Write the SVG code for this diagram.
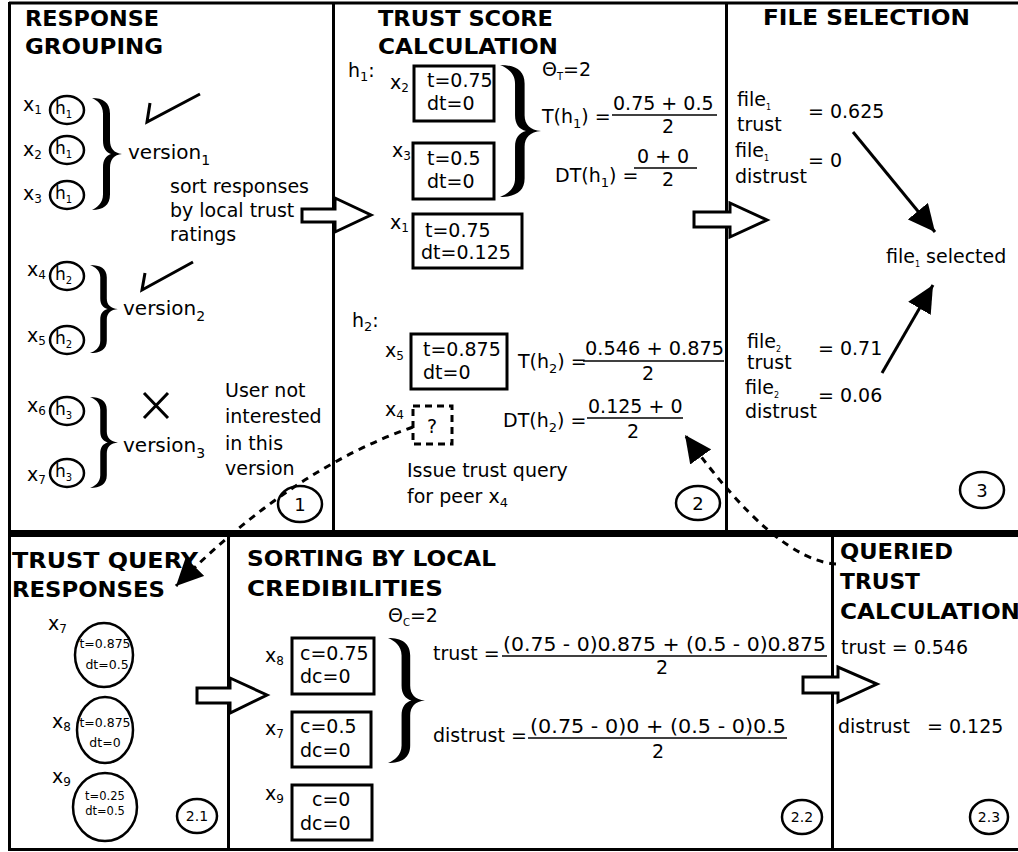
<svg xmlns="http://www.w3.org/2000/svg" xmlns:xlink="http://www.w3.org/1999/xlink" width="1018" height="852" viewBox="0 0 1018 852">
<style>
text { font-family: "DejaVu Sans", Verdana, sans-serif; fill: #000; }
.t { font-size: 19px; }
.ttl { font-size: 22px; font-weight: bold; }
.x { font-size: 19px; }
.xs { font-size: 12px; }
.s { font-size: 13px; }
.h { font-size: 17px; }
.hs { font-size: 10px; }
.fs { font-size: 8px; }
.c13 { font-size: 12.5px; text-anchor: middle; }
.c12 { font-size: 11.5px; text-anchor: middle; }
.num { font-size: 18px; text-anchor: middle; }
.num2 { font-size: 14px; text-anchor: middle; }
.mid { text-anchor: middle; }
.frame { stroke: #000; stroke-width: 3; fill: none; }
.thick { stroke: #000; stroke-width: 7; fill: none; }
.box { fill: #fff; stroke: #000; stroke-width: 3; }
.dbox { fill: #fff; stroke: #000; stroke-width: 3; stroke-dasharray: 7 5; }
.circ { fill: #fff; stroke: #000; stroke-width: 2.5; }
.frac { stroke: #000; stroke-width: 1.5; }
.blk { fill: #fff; stroke: #000; stroke-width: 3; stroke-linejoin: miter; }
.mark { fill: none; stroke: #000; stroke-width: 3; stroke-linejoin: miter; }
.dash { fill: none; stroke: #000; stroke-width: 3; stroke-dasharray: 7 6; }
.arr { fill: none; stroke: #000; stroke-width: 3; }
.brace { fill: #000; }
</style>
<defs>
<path id="brace" d="M0,0 C11,0 18,4 18,14 L18,38 C18,45 22,49.3 30,50 C22,50.7 18,55 18,62 L18,86 C18,96 11,100 0,100 C5,98 11,94 11,86 L11,62 C11,55 14,51.5 19,50 C14,48.5 11,45 11,38 L11,14 C11,6 5,2 0,0 Z"/>
<marker id="ah" markerUnits="userSpaceOnUse" markerWidth="28" markerHeight="26" refX="27" refY="13" orient="auto" viewBox="0 0 28 26"><path d="M0,0 L27,13 L0,26 Z" fill="#000" stroke="none"/></marker>
</defs>

<g id="frame">
<line class="frame" x1="9" y1="3" x2="1018" y2="3"/>
<line class="frame" x1="9.5" y1="2" x2="9.5" y2="851"/>
<line class="frame" x1="9" y1="849.5" x2="1018" y2="849.5"/>
<line class="thick" x1="9" y1="533.5" x2="1018" y2="533.5"/>
<line class="frame" x1="333.5" y1="3" x2="333.5" y2="531"/>
<line class="frame" x1="726.5" y1="3" x2="726.5" y2="531"/>
<line class="frame" x1="228.5" y1="536" x2="228.5" y2="849"/>
<line class="frame" x1="832.5" y1="536" x2="832.5" y2="849"/>
</g>

<g id="panel-1">
<text class="ttl" x="25" y="26" textLength="134" lengthAdjust="spacingAndGlyphs">RESPONSE</text>
<text class="ttl" x="25" y="54" textLength="138" lengthAdjust="spacingAndGlyphs">GROUPING</text>
<g id="resp-x1"><text class="x" x="23" y="111">x<tspan class="xs" dy="3">1</tspan></text><ellipse class="circ" cx="67" cy="110" rx="17" ry="14"/><text class="h" x="55" y="114">h<tspan class="hs" dy="4">1</tspan></text></g>
<g id="resp-x2"><text class="x" x="23" y="156">x<tspan class="xs" dy="3">2</tspan></text><ellipse class="circ" cx="67" cy="150" rx="17" ry="14"/><text class="h" x="55" y="154">h<tspan class="hs" dy="4">1</tspan></text></g>
<g id="resp-x3"><text class="x" x="23" y="200">x<tspan class="xs" dy="3">3</tspan></text><ellipse class="circ" cx="67" cy="195" rx="17" ry="14"/><text class="h" x="55" y="199">h<tspan class="hs" dy="4">1</tspan></text></g>
<g id="resp-x4"><text class="x" x="27" y="276">x<tspan class="xs" dy="3">4</tspan></text><ellipse class="circ" cx="67" cy="276" rx="17" ry="14"/><text class="h" x="55" y="280">h<tspan class="hs" dy="4">2</tspan></text></g>
<g id="resp-x5"><text class="x" x="27" y="342">x<tspan class="xs" dy="3">5</tspan></text><ellipse class="circ" cx="67" cy="340" rx="17" ry="14"/><text class="h" x="55" y="344">h<tspan class="hs" dy="4">2</tspan></text></g>
<g id="resp-x6"><text class="x" x="27" y="412">x<tspan class="xs" dy="3">6</tspan></text><ellipse class="circ" cx="67" cy="411" rx="17" ry="14"/><text class="h" x="55" y="415">h<tspan class="hs" dy="4">3</tspan></text></g>
<g id="resp-x7"><text class="x" x="27" y="481">x<tspan class="xs" dy="3">7</tspan></text><ellipse class="circ" cx="67" cy="473" rx="17" ry="14"/><text class="h" x="55" y="477">h<tspan class="hs" dy="4">3</tspan></text></g>
<use href="#brace" class="brace" transform="translate(92,98) scale(1,1.12)"/>
<use href="#brace" class="brace" transform="translate(90,265) scale(0.933,0.88)"/>
<use href="#brace" class="brace" transform="translate(90,397) scale(0.933,0.91)"/>
<text class="t" x="128" y="159" style="font-size:20px">version<tspan class="s" dy="6" style="font-size:14px">1</tspan></text>
<text class="t" x="123" y="315" style="font-size:20px">version<tspan class="s" dy="6" style="font-size:14px">2</tspan></text>
<text class="t" x="123" y="452" style="font-size:20px">version<tspan class="s" dy="6" style="font-size:14px">3</tspan></text>
<path class="mark" d="M150,103 L147,122 L200,94"/>
<path class="mark" d="M145,273 L142,290 L193,262"/>
<path class="mark" d="M144,393 L168,418 M168,393 L144,418"/>
<text class="t" x="170" y="193">sort responses</text>
<text class="t" x="170" y="217">by local trust</text>
<text class="t" x="170" y="241">ratings</text>
<text class="t" x="225" y="397">User not</text>
<text class="t" x="225" y="423">interested</text>
<text class="t" x="225" y="450">in this</text>
<text class="t" x="225" y="475">version</text>
<g id="step-1"><ellipse class="circ" cx="300" cy="504" rx="22" ry="18"/><text class="num" x="300" y="511">1</text></g>
</g>

<g id="panel-2">
<text class="ttl" x="378" y="26" textLength="175" lengthAdjust="spacingAndGlyphs">TRUST SCORE</text>
<text class="ttl" x="378" y="54" textLength="180" lengthAdjust="spacingAndGlyphs">CALCULATION</text>
<text class="t" x="348" y="77">h<tspan class="s" dy="4">1</tspan><tspan dy="-4">:</tspan></text>
<g id="ts-x2"><text class="x" x="390" y="89">x<tspan class="xs" dy="3">2</tspan></text><rect class="box" x="414" y="66" width="80" height="55"/><text class="t" x="427" y="87">t=0.75</text><text class="t" x="427" y="110">dt=0</text></g>
<g id="ts-x3"><text class="x" x="392" y="157">x<tspan class="xs" dy="3">3</tspan></text><rect class="box" x="413" y="143" width="81" height="56"/><text class="t" x="427" y="165">t=0.5</text><text class="t" x="427" y="188">dt=0</text></g>
<g id="ts-x1"><text class="x" x="390" y="229">x<tspan class="xs" dy="3">1</tspan></text><rect class="box" x="413" y="214" width="109" height="54"/><text class="t" x="425" y="237">t=0.75</text><text class="t" x="421" y="259">dt=0.125</text></g>
<use href="#brace" class="brace" transform="translate(500,65) scale(1.367,1.32)"/>
<text class="t" x="542" y="76">Θ<tspan class="s" dy="4" style="font-size:10px">T</tspan><tspan dy="-4">=2</tspan></text>
<text class="t" x="542" y="123">T(h<tspan class="s" dy="5">1</tspan><tspan dy="-5">) =</tspan></text>
<text class="t" x="613" y="110">0.75 + 0.5</text>
<line class="frac" x1="612" y1="115" x2="717" y2="115"/>
<text class="t mid" x="668" y="133">2</text>
<text class="t" x="555" y="182">DT(h<tspan class="s" dy="5">1</tspan><tspan dy="-5">) =</tspan></text>
<text class="t" x="637" y="163">0 + 0</text>
<line class="frac" x1="634" y1="168" x2="697" y2="168"/>
<text class="t mid" x="668" y="186">2</text>
<text class="t" x="352" y="327">h<tspan class="s" dy="4">2</tspan><tspan dy="-4">:</tspan></text>
<g id="ts-x5"><text class="x" x="385" y="357">x<tspan class="xs" dy="3">5</tspan></text><rect class="box" x="411" y="334" width="96" height="55"/><text class="t" x="423" y="356">t=0.875</text><text class="t" x="423" y="379">dt=0</text></g>
<text class="t" x="518" y="368">T(h<tspan class="s" dy="5">2</tspan><tspan dy="-5">) =</tspan></text>
<text class="t" x="585" y="355" textLength="139" lengthAdjust="spacingAndGlyphs">0.546 + 0.875</text>
<line class="frac" x1="583" y1="361" x2="724" y2="361"/>
<text class="t mid" x="648" y="380">2</text>
<g id="ts-x4"><text class="x" x="385" y="416">x<tspan class="xs" dy="3">4</tspan></text><rect class="dbox" x="413" y="406" width="39" height="38"/><text class="t mid" x="432" y="433">?</text></g>
<text class="t" x="503" y="427">DT(h<tspan class="s" dy="5">2</tspan><tspan dy="-5">) =</tspan></text>
<text class="t" x="588" y="413">0.125 + 0</text>
<line class="frac" x1="587" y1="418" x2="683" y2="418"/>
<text class="t mid" x="633" y="438">2</text>
<text class="t" x="407" y="477">Issue trust query</text>
<text class="t" x="407" y="503">for peer x<tspan class="s" dy="4">4</tspan></text>
<g id="step-2"><ellipse class="circ" cx="698" cy="503" rx="22" ry="17"/><text class="num" x="698" y="510">2</text></g>
</g>

<g id="panel-3">
<text class="ttl" x="763" y="25" textLength="207" lengthAdjust="spacingAndGlyphs">FILE SELECTION</text>
<text class="t" x="737" y="106">file<tspan class="fs" dy="4">1</tspan></text>
<text class="t" x="737" y="131">trust</text>
<text class="t" x="808" y="118">= 0.625</text>
<text class="t" x="735" y="157">file<tspan class="fs" dy="4">1</tspan></text>
<text class="t" x="735" y="183">distrust</text>
<text class="t" x="808" y="167">= 0</text>
<g id="file-selected"><text class="t" x="886" y="263">file<tspan class="fs" dy="4">1</tspan><tspan dy="-4"> selected</tspan></text></g>
<text class="t" x="747" y="348">file<tspan class="fs" dy="4">2</tspan></text>
<text class="t" x="747" y="369">trust</text>
<text class="t" x="818" y="355">= 0.71</text>
<text class="t" x="745" y="394">file<tspan class="fs" dy="4">2</tspan></text>
<text class="t" x="745" y="418">distrust</text>
<text class="t" x="818" y="402">= 0.06</text>
<g id="step-3"><ellipse class="circ" cx="982" cy="490" rx="22" ry="18"/><text class="num" x="982" y="497">3</text></g>
</g>

<g id="panel-2-1">
<text class="ttl" x="12" y="568" textLength="186" lengthAdjust="spacingAndGlyphs">TRUST QUERY</text>
<text class="ttl" x="12" y="597" textLength="153" lengthAdjust="spacingAndGlyphs">RESPONSES</text>
<g id="q-x7"><text class="x" x="48" y="630">x<tspan class="xs" dy="3">7</tspan></text><ellipse class="circ" cx="104" cy="655" rx="29" ry="32"/><text class="c13" x="105" y="648">t=0.875</text><text class="c13" x="107" y="669">dt=0.5</text></g>
<g id="q-x8"><text class="x" x="52" y="728">x<tspan class="xs" dy="3">8</tspan></text><ellipse class="circ" cx="105" cy="730" rx="28" ry="33"/><text class="c13" x="105" y="727">t=0.875</text><text class="c13" x="105" y="747">dt=0</text></g>
<g id="q-x9"><text class="x" x="52" y="783">x<tspan class="xs" dy="3">9</tspan></text><ellipse class="circ" cx="105" cy="807" rx="32" ry="34"/><text class="c12" x="105" y="800">t=0.25</text><text class="c12" x="105" y="815">dt=0.5</text></g>
<g id="step-2-1"><ellipse class="circ" cx="197" cy="816" rx="20" ry="17"/><text class="num2" x="197" y="821">2.1</text></g>
</g>

<g id="panel-2-2">
<text class="ttl" x="247" y="566" textLength="249" lengthAdjust="spacingAndGlyphs">SORTING BY LOCAL</text>
<text class="ttl" x="247" y="596" textLength="196" lengthAdjust="spacingAndGlyphs">CREDIBILITIES</text>
<text class="t" x="388" y="622">Θ<tspan class="s" dy="4" style="font-size:10px">C</tspan><tspan dy="-4">=2</tspan></text>
<g id="c-x8"><text class="x" x="265" y="662">x<tspan class="xs" dy="3">8</tspan></text><rect class="box" x="292" y="638" width="82" height="56"/><text class="t" x="300" y="660">c=0.75</text><text class="t" x="300" y="683">dc=0</text></g>
<g id="c-x7"><text class="x" x="265" y="735">x<tspan class="xs" dy="3">7</tspan></text><rect class="box" x="292" y="712" width="79" height="55"/><text class="t" x="300" y="733">c=0.5</text><text class="t" x="300" y="757">dc=0</text></g>
<g id="c-x9"><text class="x" x="265" y="800">x<tspan class="xs" dy="3">9</tspan></text><rect class="box" x="292" y="785" width="80" height="55"/><text class="t" x="312" y="806">c=0</text><text class="t" x="300" y="830">dc=0</text></g>
<use href="#brace" class="brace" transform="translate(388,638) scale(1.233,1.25)"/>
<text class="t" x="433" y="660">trust =</text>
<text class="t" x="503" y="651" textLength="323" lengthAdjust="spacingAndGlyphs">(0.75 - 0)0.875 + (0.5 - 0)0.875</text>
<line class="frac" x1="502" y1="656" x2="827" y2="656"/>
<text class="t mid" x="662" y="674">2</text>
<text class="t" x="433" y="742">distrust =</text>
<text class="t" x="530" y="733" textLength="256" lengthAdjust="spacingAndGlyphs">(0.75 - 0)0 + (0.5 - 0)0.5</text>
<line class="frac" x1="528" y1="738" x2="787" y2="738"/>
<text class="t mid" x="658" y="758">2</text>
<g id="step-2-2"><ellipse class="circ" cx="802" cy="817" rx="20" ry="17"/><text class="num2" x="802" y="822">2.2</text></g>
</g>

<g id="panel-2-3">
<text class="ttl" x="840" y="559" textLength="113" lengthAdjust="spacingAndGlyphs">QUERIED</text>
<text class="ttl" x="840" y="589" textLength="80" lengthAdjust="spacingAndGlyphs">TRUST</text>
<text class="ttl" x="840" y="619" textLength="180" lengthAdjust="spacingAndGlyphs">CALCULATION</text>
<text class="t" x="841" y="654">trust = 0.546</text>
<text class="t" x="838" y="733">distrust<tspan x="927">= 0.125</tspan></text>
<g id="step-2-3"><ellipse class="circ" cx="989" cy="817" rx="19" ry="17"/><text class="num2" x="989" y="822">2.3</text></g>
</g>

<g id="connectors">
<polygon class="blk" points="302,209 335,209 335,198 371,215 335,232 335,222 302,222"/>
<polygon class="blk" points="694,212 730,212 730,203 767,220 730,237 730,227 694,227"/>
<polygon class="blk" points="197,688 230,688 230,678 267,695 230,713 230,703 197,703"/>
<polygon class="blk" points="803,677 838,677 838,667 877,684 838,702 838,693 803,693"/>
<line class="arr" x1="853" y1="132" x2="935" y2="232" marker-end="url(#ah)"/>
<line class="arr" x1="882" y1="373" x2="933" y2="285" marker-end="url(#ah)"/>
<path class="dash" d="M413,427 Q290,470 176,586" marker-end="url(#ah)"/>
<path class="dash" d="M836,564 Q775,560 685,435" marker-end="url(#ah)"/>
</g>
</svg>
